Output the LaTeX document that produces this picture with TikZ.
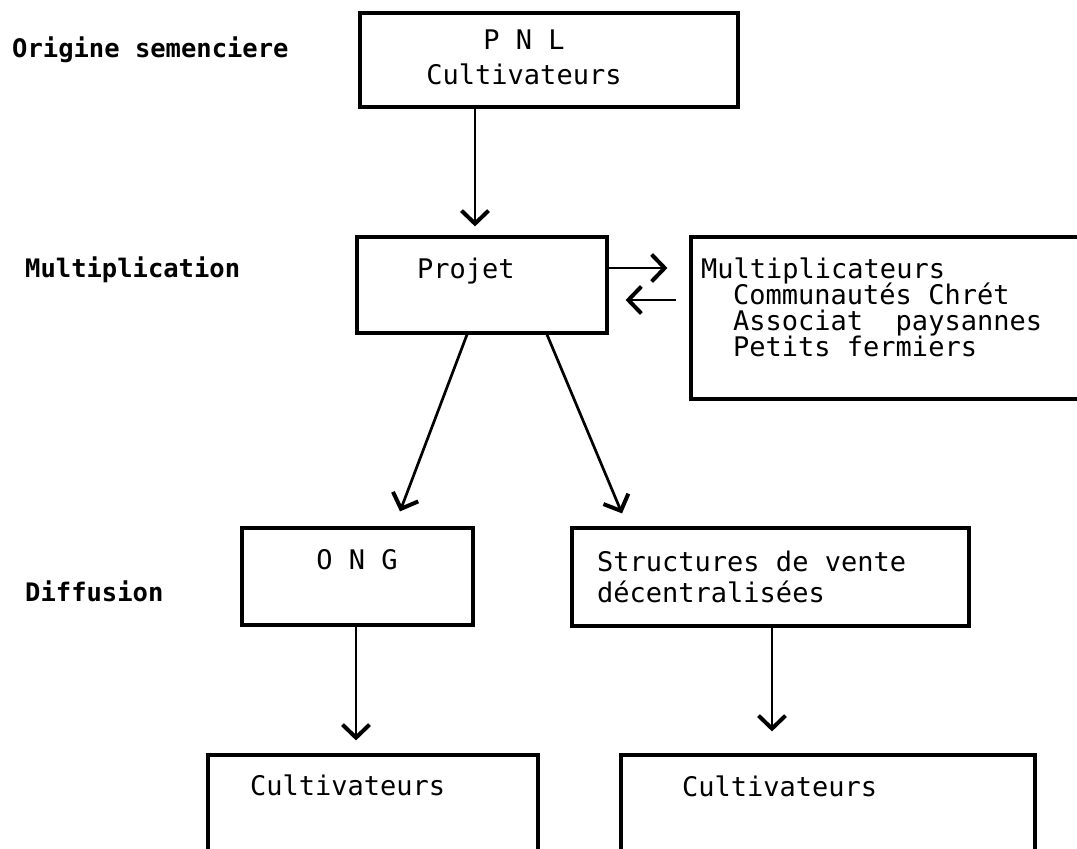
\documentclass[tikz,border=0pt]{standalone}
\usepackage{fontspec}
\setmonofont{DejaVu Sans Mono}
\usetikzlibrary{arrows.meta}
\tikzset{
  box/.style={draw, line width=3.2pt, inner sep=0pt, rectangle},
  txt/.style={font=\fontsize{27}{27}\selectfont\ttfamily, inner sep=0pt, anchor=base west},
  ctxt/.style={font=\fontsize{27}{27}\selectfont\ttfamily, inner sep=0pt, anchor=base},
  lbl/.style={font=\fontsize{25.5}{25.5}\selectfont\ttfamily\bfseries, inner sep=0pt, anchor=base west},
  arr/.style={line width=2.7pt, -{Straight Barb[length=13pt,width=27pt,line width=4pt]}},
}
\begin{document}
\begin{tikzpicture}[x=1pt,y=-1pt]
\useasboundingbox (0,0) rectangle (1077,849);
\clip (0,0) rectangle (1077,849);
\fill[white] (0,0) rectangle (1077,849);

% boxes
\node[box, minimum width=378pt, minimum height=94pt] (pnl) at (549,60) {};
\node[box, minimum width=250pt, minimum height=96pt] (projet) at (482,285) {};
\node[box, minimum width=420pt, minimum height=162pt] (mult) at (901,318) {};
\node[box, minimum width=231pt, minimum height=97pt] (ong) at (357.5,576.5) {};
\node[box, minimum width=397pt, minimum height=98pt] (struct) at (770.5,577) {};
\node[box, minimum width=330pt, minimum height=130pt] (cult1) at (373,820) {};
\node[box, minimum width=414pt, minimum height=130pt] (cult2) at (828,820) {};

% left labels
\node[lbl] (l1) at (12,57) {Origine semenciere};
\node[lbl] (l2) at (25,277) {Multiplication};
\node[lbl] (l3) at (25,601) {Diffusion};

% box texts
\node[ctxt] (t1) at (524,49) {P N L};
\node[ctxt] (t2) at (524,84) {Cultivateurs};
\node[txt] (t3) at (417,278) {Projet};
\node[txt] (t4) at (701,278) {Multiplicateurs};
\node[txt] (t5) at (733,304) {Communautés Chrét};
\node[txt] (t6) at (733,330) {Associat\ \ paysannes};
\node[txt] (t7) at (733,356) {Petits fermiers};
\node[ctxt] (t8) at (357,569) {O N G};
\node[txt] (t9) at (597,571) {Structures de vente};
\node[txt] (t10) at (597,602) {décentralisées};
\node[txt] (t11) at (250,795) {Cultivateurs};
\node[txt] (t12) at (682,796) {Cultivateurs};

% connector reference points
\coordinate (xa) at (475,0);
\coordinate (ya) at (0,268);
\coordinate (yb) at (0,300);
\coordinate (xb) at (467,0);
\coordinate (xc) at (547,0);
\coordinate (xd) at (400,0);
\coordinate (xe) at (622,0);
\coordinate (xf) at (356,0);
\coordinate (xg) at (772,0);

% connectors
\draw[arr] (pnl.south -| xa) -- ([yshift=9pt]projet.north -| xa);
\draw[arr] (projet.east |- ya) -- ([xshift=-22pt]mult.west |- ya);
\draw[arr] ([xshift=-13pt]mult.west |- yb) -- ([xshift=17pt]projet.east |- yb);
\draw[arr] (projet.south -| xb) -- ([yshift=15pt]ong.north -| xd);
\draw[arr] (projet.south -| xc) -- ([yshift=13pt]struct.north -| xe);
\draw[arr] (ong.south -| xf) -- ([yshift=13pt]cult1.north -| xf);
\draw[arr] (struct.south -| xg) -- ([yshift=22pt]cult2.north -| xg);
\end{tikzpicture}
\end{document}
